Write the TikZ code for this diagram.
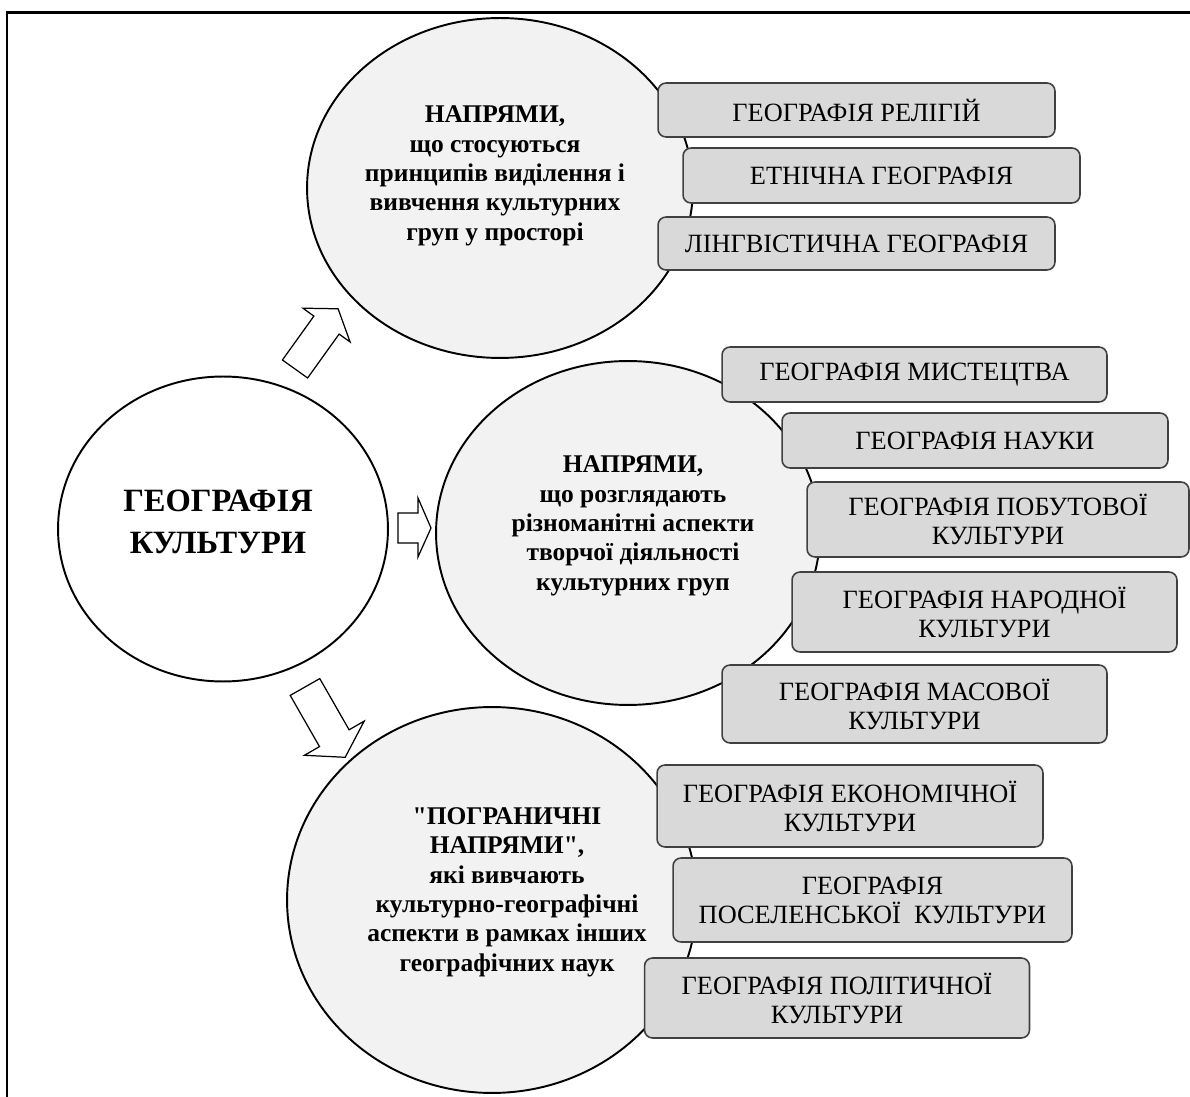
\documentclass[tikz,border=0pt]{standalone}
\usepackage{fontspec}
\setmainfont{Liberation Serif}[Ligatures=TeXOff]
\usetikzlibrary{shapes.geometric}
\definecolor{circfill}{HTML}{F2F2F2}
\definecolor{boxfill}{HTML}{D9D9D9}
\definecolor{boxline}{HTML}{404040}
\begin{document}
\begin{tikzpicture}[x=0.02cm,y=-0.02cm,
  circ/.style={ellipse, draw=black, line width=1.1pt, fill=circfill, inner sep=0pt},
  gbox/.style={draw=boxline, line width=0.9pt, fill=boxfill, rounded corners=0.16cm,
    align=center, inner sep=0pt, font=\fontsize{15}{16.5}\selectfont},
  ctext/.style={align=center, inner sep=0pt, font=\fontsize{14.5}{16.7}\selectfont\bfseries},
  mtext/.style={align=center, inner sep=0pt, font=\fontsize{18.5}{23.8}\selectfont\bfseries},
  barrow/.style={draw=black, line width=0.7pt, fill=white, line join=miter},
  frame/.style={line width=1.7pt}]
\useasboundingbox (0,0) rectangle (1190,1097);
\draw[frame] (7,1097) -- (7,13) -- (1190,13);

% circles
\node[circ, fill=white, minimum width=6.6cm, minimum height=6.1cm] (main) at (223,529) {};
\node[circ, minimum width=7.72cm, minimum height=6.8cm] (top) at (500,188) {};
\node[circ, minimum width=7.68cm, minimum height=6.88cm] (mid) at (628,533) {};
\node[circ, minimum width=8.2cm, minimum height=7.72cm] (bot) at (492,900) {};

% block arrows
\draw[barrow] (282.4,360.0) -- (313.9,316.1) -- (302.9,308.2) -- (338.1,308.8)
  -- (350.1,342.0) -- (339.1,334.1) -- (307.6,378.0) -- cycle;
\draw[barrow] (398,513) -- (418,513) -- (418,498) -- (431,528) -- (418,557)
  -- (418,543) -- (398,543) -- cycle;
\draw[barrow] (290.2,695.4) -- (319.5,746.6) -- (304.4,755.3) -- (345.2,757.3)
  -- (364.2,721.1) -- (349.1,729.8) -- (319.8,678.6) -- cycle;

% circle texts
\node[mtext] (mt) at (218,522) {ГЕОГРАФІЯ\\КУЛЬТУРИ};
\node[ctext] (t1) at (495,176) {НАПРЯМИ,\\що стосуються\\принципів виділення і\\вивчення культурних\\груп у просторі};
\node[ctext] (t2) at (633,526) {НАПРЯМИ,\\що розглядають\\різноманітні аспекти\\творчої діяльності\\культурних груп};
\node[ctext] (t3) at (507,892) {"ПОГРАНИЧНІ\\НАПРЯМИ",\\які вивчають\hspace*{0.6cm}\\культурно-географічні\\аспекти в рамках інших\\географічних наук};

% boxes group 1
\node[gbox, minimum width=7.94cm, minimum height=1.08cm] (b1) at (856.5,110) {ГЕОГРАФІЯ РЕЛІГІЙ};
\node[gbox, minimum width=7.94cm, minimum height=1.10cm] (b2) at (881.5,175.5) {ЕТНІЧНА ГЕОГРАФІЯ};
\node[gbox, minimum width=7.94cm, minimum height=1.06cm] (b3) at (856.5,243.5) {ЛІНГВІСТИЧНА ГЕОГРАФІЯ};

% boxes group 2
\node[gbox, minimum width=7.70cm, minimum height=1.10cm] (b4) at (914.5,374.5) {ГЕОГРАФІЯ МИСТЕЦТВА};
\node[gbox, minimum width=7.72cm, minimum height=1.10cm] (b5) at (975,440.5) {ГЕОГРАФІЯ НАУКИ};
\node[gbox, minimum width=7.64cm, minimum height=1.50cm] (b6) at (998,519.5) {ГЕОГРАФІЯ ПОБУТОВОЇ\\КУЛЬТУРИ};
\node[gbox, minimum width=7.70cm, minimum height=1.60cm] (b7) at (984.5,612) {ГЕОГРАФІЯ НАРОДНОЇ\\КУЛЬТУРИ};
\node[gbox, minimum width=7.70cm, minimum height=1.56cm] (b8) at (914.5,704) {ГЕОГРАФІЯ МАСОВОЇ\\КУЛЬТУРИ};

% boxes group 3
\node[gbox, minimum width=7.72cm, minimum height=1.64cm] (b9) at (850,806) {ГЕОГРАФІЯ ЕКОНОМІЧНОЇ\\КУЛЬТУРИ};
\node[gbox, minimum width=7.98cm, minimum height=1.68cm] (b10) at (872.5,900) {ГЕОГРАФІЯ\\ПОСЕЛЕНСЬКОЇ~~КУЛЬТУРИ};
\node[gbox, minimum width=7.70cm, minimum height=1.60cm] (b11) at (837,998) {ГЕОГРАФІЯ ПОЛІТИЧНОЇ\\КУЛЬТУРИ};
\end{tikzpicture}
\end{document}
